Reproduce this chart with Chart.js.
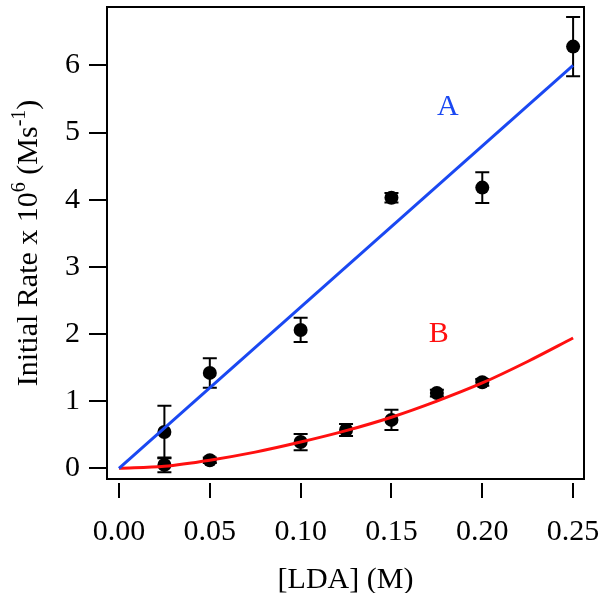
<!DOCTYPE html>
<html>
<head>
<meta charset="utf-8">
<script src="https://cdn.jsdelivr.net/npm/chart.js@4.4.1/dist/chart.umd.min.js"></script>
<style>
  html, body { margin: 0; background: #fff; }
  #wrap { width: 600px; height: 593px; position: relative; }
</style>
</head>
<body>
<div id="wrap"><canvas id="chart"></canvas></div>
<script>
// ---- data: initial rate (x 10^6 M/s) vs [LDA] (M) ----
const aConc = [0.025, 0.05, 0.10, 0.15, 0.20, 0.25];
const aRate = [0.54, 1.42, 2.06, 4.03, 4.18, 6.28];
const aErr  = [0.39, 0.22, 0.18, 0.07, 0.23, 0.44];

const bConc = [0.025, 0.05, 0.10, 0.125, 0.15, 0.175, 0.20];
const bRate = [0.05, 0.12, 0.39, 0.57, 0.72, 1.12, 1.28];
const bErr  = [0.11, 0.04, 0.12, 0.09, 0.15, 0.05, 0.05];

// fitted curves
const aFitX = [0, 0.25];
const aFitY = [0, 6.0];
const bFitX = [0, 0.025, 0.05, 0.075, 0.10, 0.125, 0.15, 0.175, 0.20, 0.225, 0.25];
const bFitY = [0, 0.03, 0.12, 0.24, 0.39, 0.56, 0.76, 1.00, 1.27, 1.59, 1.94];

const xTicks = [0, 0.05, 0.10, 0.15, 0.20, 0.25];
const yTicks = [0, 1, 2, 3, 4, 5, 6];

const FONT = "'Liberation Serif', 'Times New Roman', serif";
const BLUE = '#1a48f2';
const RED  = '#ff1010';

const pts = (xs, ys) => xs.map((x, i) => ({ x, y: ys[i] }));

function fixBox(s, key, size) {
  s[key] = size;
  s.paddingLeft = s.paddingRight = s.paddingTop = s.paddingBottom = 0;
}

// frame, tick marks, error bars, titles and curve labels
const decor = {
  id: 'decor',
  beforeDatasetsDraw(chart) {
    const { ctx, scales: { x, y } } = chart;
    ctx.save();
    ctx.strokeStyle = '#000';
    ctx.lineWidth = 2;
    const bars = [[aConc, aRate, aErr], [bConc, bRate, bErr]];
    for (const [xs, ys, es] of bars) {
      xs.forEach((v, i) => {
        const px = x.getPixelForValue(v);
        const hi = y.getPixelForValue(ys[i] + es[i]);
        const lo = y.getPixelForValue(ys[i] - es[i]);
        ctx.beginPath();
        ctx.moveTo(px, hi); ctx.lineTo(px, lo);
        ctx.moveTo(px - 7, hi); ctx.lineTo(px + 7, hi);
        ctx.moveTo(px - 7, lo); ctx.lineTo(px + 7, lo);
        ctx.stroke();
      });
    }
    ctx.restore();
  },
  afterDraw(chart) {
    const { ctx, chartArea: a, scales: { x, y } } = chart;
    ctx.save();
    ctx.strokeStyle = '#000';
    ctx.lineWidth = 2;
    ctx.strokeRect(a.left, a.top, a.right - a.left, a.bottom - a.top);

    ctx.beginPath();
    yTicks.forEach(v => {
      const py = Math.round(y.getPixelForValue(v));
      ctx.moveTo(a.left - 18, py); ctx.lineTo(a.left, py);
    });
    xTicks.forEach(v => {
      const px = Math.round(x.getPixelForValue(v));
      ctx.moveTo(px, a.bottom + 4); ctx.lineTo(px, a.bottom + 19);
    });
    ctx.stroke();

    // x title
    ctx.fillStyle = '#000';
    ctx.font = `30px ${FONT}`;
    ctx.textAlign = 'center';
    ctx.textBaseline = 'alphabetic';
    ctx.fillText('[LDA] (M)', (a.left + a.right) / 2, 588);

    // y title with superscripts
    const parts = [
      ['Initial Rate x 10', false], ['6', true], [' (Ms', false], ['-1', true], [')', false]
    ];
    const fNorm = `30px ${FONT}`, fSup = `20px ${FONT}`;
    let total = 0;
    for (const [t, sup] of parts) { ctx.font = sup ? fSup : fNorm; total += ctx.measureText(t).width; }
    ctx.translate(37, (a.top + a.bottom) / 2);
    ctx.rotate(-Math.PI / 2);
    ctx.textAlign = 'left';
    let cx = -total / 2;
    for (const [t, sup] of parts) {
      ctx.font = sup ? fSup : fNorm;
      ctx.fillText(t, cx, sup ? -12 : 0);
      cx += ctx.measureText(t).width;
    }
    ctx.restore();

    // curve labels
    ctx.save();
    ctx.font = `30px ${FONT}`;
    ctx.textAlign = 'center';
    ctx.textBaseline = 'middle';
    ctx.fillStyle = BLUE;
    ctx.fillText('A', x.getPixelForValue(0.181), y.getPixelForValue(5.38));
    ctx.fillStyle = RED;
    ctx.fillText('B', x.getPixelForValue(0.176), y.getPixelForValue(2.0));
    ctx.restore();
  }
};

new Chart(document.getElementById('chart'), {
  type: 'scatter',
  data: {
    datasets: [
      {
        label: 'A fit', type: 'line', data: pts(aFitX, aFitY),
        borderColor: BLUE, borderWidth: 3, pointRadius: 0, fill: false
      },
      {
        label: 'B fit', type: 'line', data: pts(bFitX, bFitY),
        borderColor: RED, borderWidth: 3, pointRadius: 0, fill: false,
        cubicInterpolationMode: 'monotone'
      },
      {
        label: 'A', data: pts(aConc, aRate),
        pointRadius: 7, backgroundColor: '#000', borderColor: '#000', borderWidth: 0
      },
      {
        label: 'B', data: pts(bConc, bRate),
        pointRadius: 7, backgroundColor: '#000', borderColor: '#000', borderWidth: 0
      }
    ]
  },
  options: {
    responsive: true,
    maintainAspectRatio: false,
    animation: false,
    devicePixelRatio: 1,
    layout: { padding: { left: 0, top: 2, right: 16, bottom: 0 } },
    plugins: { legend: { display: false }, tooltip: { enabled: false } },
    scales: {
      x: {
        type: 'linear', min: -0.0066, max: 0.256,
        afterFit: s => fixBox(s, 'height', 114),
        afterBuildTicks: s => { s.ticks = xTicks.map(v => ({ value: v })); },
        grid: { display: false, drawTicks: false },
        border: { display: false },
        ticks: {
          color: '#000', padding: 35, maxRotation: 0,
          font: { family: FONT, size: 30 },
          callback: v => v.toFixed(2)
        }
      },
      y: {
        type: 'linear', min: -0.16, max: 6.87,
        afterFit: s => fixBox(s, 'width', 107),
        afterBuildTicks: s => { s.ticks = yTicks.map(v => ({ value: v })); },
        grid: { display: false, drawTicks: false },
        border: { display: false },
        ticks: {
          color: '#000', padding: 27,
          font: { family: FONT, size: 30 },
          callback: v => String(v)
        }
      }
    }
  },
  plugins: [decor]
});
</script>
</body>
</html>
